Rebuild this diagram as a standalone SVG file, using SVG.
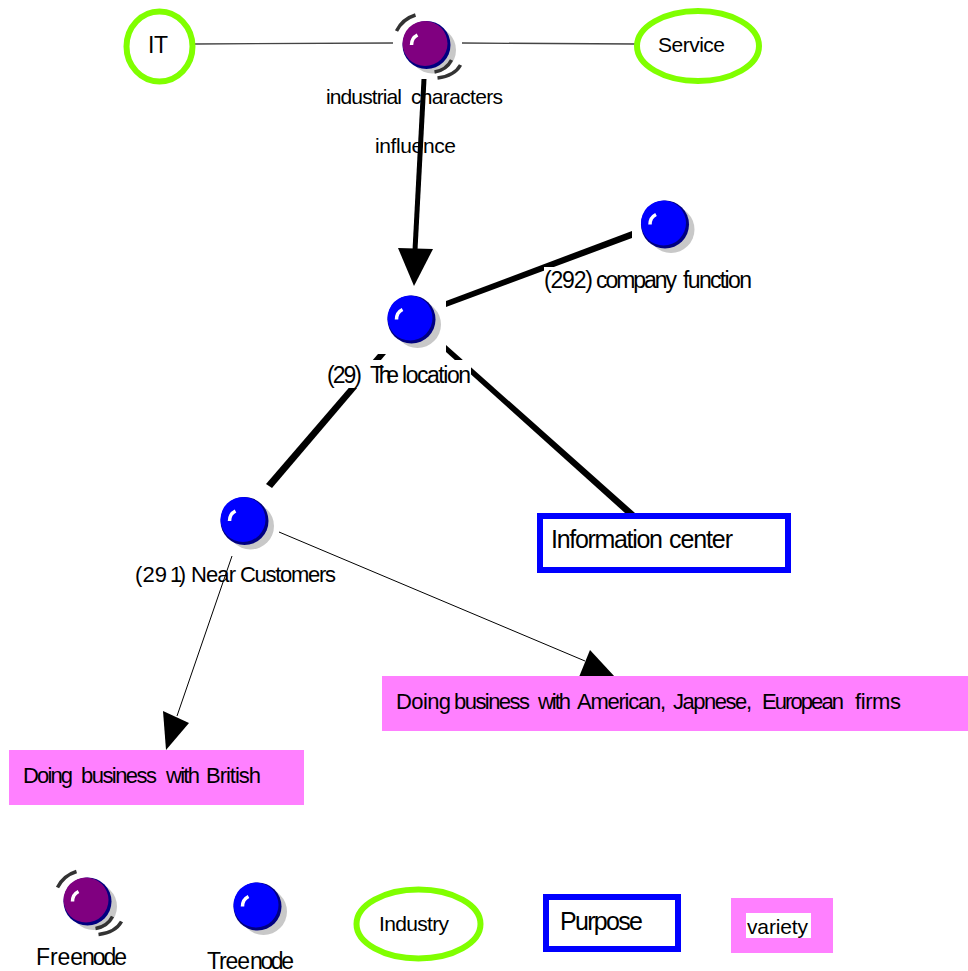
<svg xmlns="http://www.w3.org/2000/svg" width="968" height="971" viewBox="0 0 968 971">
<style>
text{font-family:"Liberation Sans",Arial,sans-serif;fill:#000}
.s20{font-size:20px}.s21{font-size:21px}.s22{font-size:22px}.s23{font-size:23px}.s25{font-size:25px}
.g{fill:#fff;stroke:#80ff00;stroke-width:6}
.p{fill:#fff;stroke:#0000ff;stroke-width:6}
.v{fill:#ff80ff}
.bg{fill:#fff}
.f{fill:none;stroke:#000;stroke-width:1}
.top{fill:none;stroke:#444;stroke-width:1.300}
.ar{fill:none;stroke:#333;stroke-width:3.500}
.hl{fill:none;stroke:#fff;stroke-width:3.500}
</style>
<defs>
<g id="tree">
<circle cx="6" cy="5" r="23.500" fill="#c8c8c8"/>
<circle r="24" fill="#000080"/>
<circle cx="-1.500" cy="-1.500" r="22.500" fill="#0000ff"/>
<path class="hl" d="M-15 0Q-15-7-9-10"/>
</g>
<g id="free">
<circle cx="6" cy="5" r="23.500" fill="#c8c8c8"/>
<circle r="24" fill="#000080"/>
<circle cx="-1.500" cy="-1.500" r="22.500" fill="#800080"/>
<path class="hl" d="M-15 0Q-15-7-9-10"/>
<path class="ar" d="M-30-14Q-24-26-11-30"/>
<path class="ar" d="M8 27Q20 25 25 15M11 33Q28 31 34 20"/>
</g>
</defs>
<g id="connectors">
<path class="top" d="M195 44L393 43M462 43L636 44"/>
<path d="M421.500 79L426.500 79L417.500 250L412.500 250Z"/>
<path d="M398 248L433 249L414 286Z"/>
<path d="M446 301L446 307L632 238L632 231Z"/>
<path d="M446 345L446 352L625 513L635 513Z"/>
<path d="M378 354L386 354L272 488L266 484Z"/>
<path class="f" d="M232 556L177 716M279 532L585 661"/>
<path d="M163 711L189 723L166 750Z"/>
<path d="M590 650L579 677L615 677Z"/>
</g>
<g id="it"><ellipse class="g" cx="159.500" cy="46.500" rx="33" ry="35"/><text class="s23" x="148" y="53" textLength="20">IT</text></g>
<g id="service"><ellipse class="g" cx="698" cy="46" rx="61" ry="35"/><text class="s21" x="658" y="52" textLength="67">Service</text></g>
<g id="industrial"><use href="#free" x="426.500" y="45"/><text class="s21" y="104"><tspan x="326" textLength="76">industrial</tspan> <tspan x="411" textLength="92">characters</tspan></text></g>
<g id="influence-label"><text class="s21" x="375" y="153" textLength="81">influence</text></g>
<g id="location"><use href="#tree" x="411.500" y="319.500"/><rect class="bg" x="328" y="360" width="143" height="28"/><text class="s23" y="383"><tspan x="327" textLength="35">(29)</tspan> <tspan x="370" textLength="29">The</tspan> <tspan x="402" textLength="69">location</tspan></text></g>
<g id="company"><use href="#tree" x="665" y="224.500"/><rect class="bg" x="544" y="267" width="209" height="28"/><text class="s23" y="288"><tspan x="544" textLength="49">(292)</tspan> <tspan x="596" textLength="81">company</tspan> <tspan x="683" textLength="69">function</tspan></text></g>
<g id="customers"><use href="#tree" x="244.500" y="521"/><text class="s22" y="582"><tspan x="135" textLength="32">(29</tspan> <tspan x="170" textLength="16">1)</tspan> <tspan x="191" textLength="45">Near</tspan> <tspan x="240" textLength="96">Customers</tspan></text></g>
<g id="info"><rect class="p" x="540" y="516" width="248" height="54"/><text class="s25" y="548"><tspan x="551" textLength="112">Information</tspan> <tspan x="669" textLength="64">center</tspan></text></g>
<g id="american"><rect class="v" x="382" y="676" width="586" height="55"/><text class="s22" y="709"><tspan x="396" textLength="55">Doing</tspan> <tspan x="454" textLength="76">business</tspan> <tspan x="538" textLength="33">with</tspan> <tspan x="577" textLength="89">American,</tspan> <tspan x="673" textLength="79">Japnese,</tspan> <tspan x="762" textLength="82">European</tspan> <tspan x="855" textLength="46">firms</tspan></text></g>
<g id="british"><rect class="v" x="9" y="750" width="295" height="55"/><text class="s22" y="783"><tspan x="23" textLength="50">Doing</tspan> <tspan x="81" textLength="76">business</tspan> <tspan x="166" textLength="34">with</tspan> <tspan x="206" textLength="55">British</tspan></text></g>
<g id="legend-free"><use href="#free" x="87.500" y="901.500"/><text class="s23" y="965"><tspan x="36" textLength="47">Free</tspan> <tspan x="82" textLength="45">node</tspan></text></g>
<g id="legend-tree"><use href="#tree" x="257.500" y="906.500"/><text class="s23" y="969"><tspan x="207" textLength="43">Tree</tspan> <tspan x="250" textLength="44">node</tspan></text></g>
<g id="legend-industry"><ellipse class="g" cx="418.500" cy="924" rx="62" ry="34.500"/><text class="s21" x="379" y="931" textLength="70">Industry</text></g>
<g id="legend-purpose"><rect class="p" x="546" y="897" width="132" height="52"/><text class="s25" x="560" y="930" textLength="83">Purpose</text></g>
<g id="legend-variety"><rect class="v" x="731" y="898" width="102" height="55"/><rect class="bg" x="746" y="913" width="65" height="25"/><text class="s21" x="747" y="934" textLength="61">variety</text></g>
</svg>
